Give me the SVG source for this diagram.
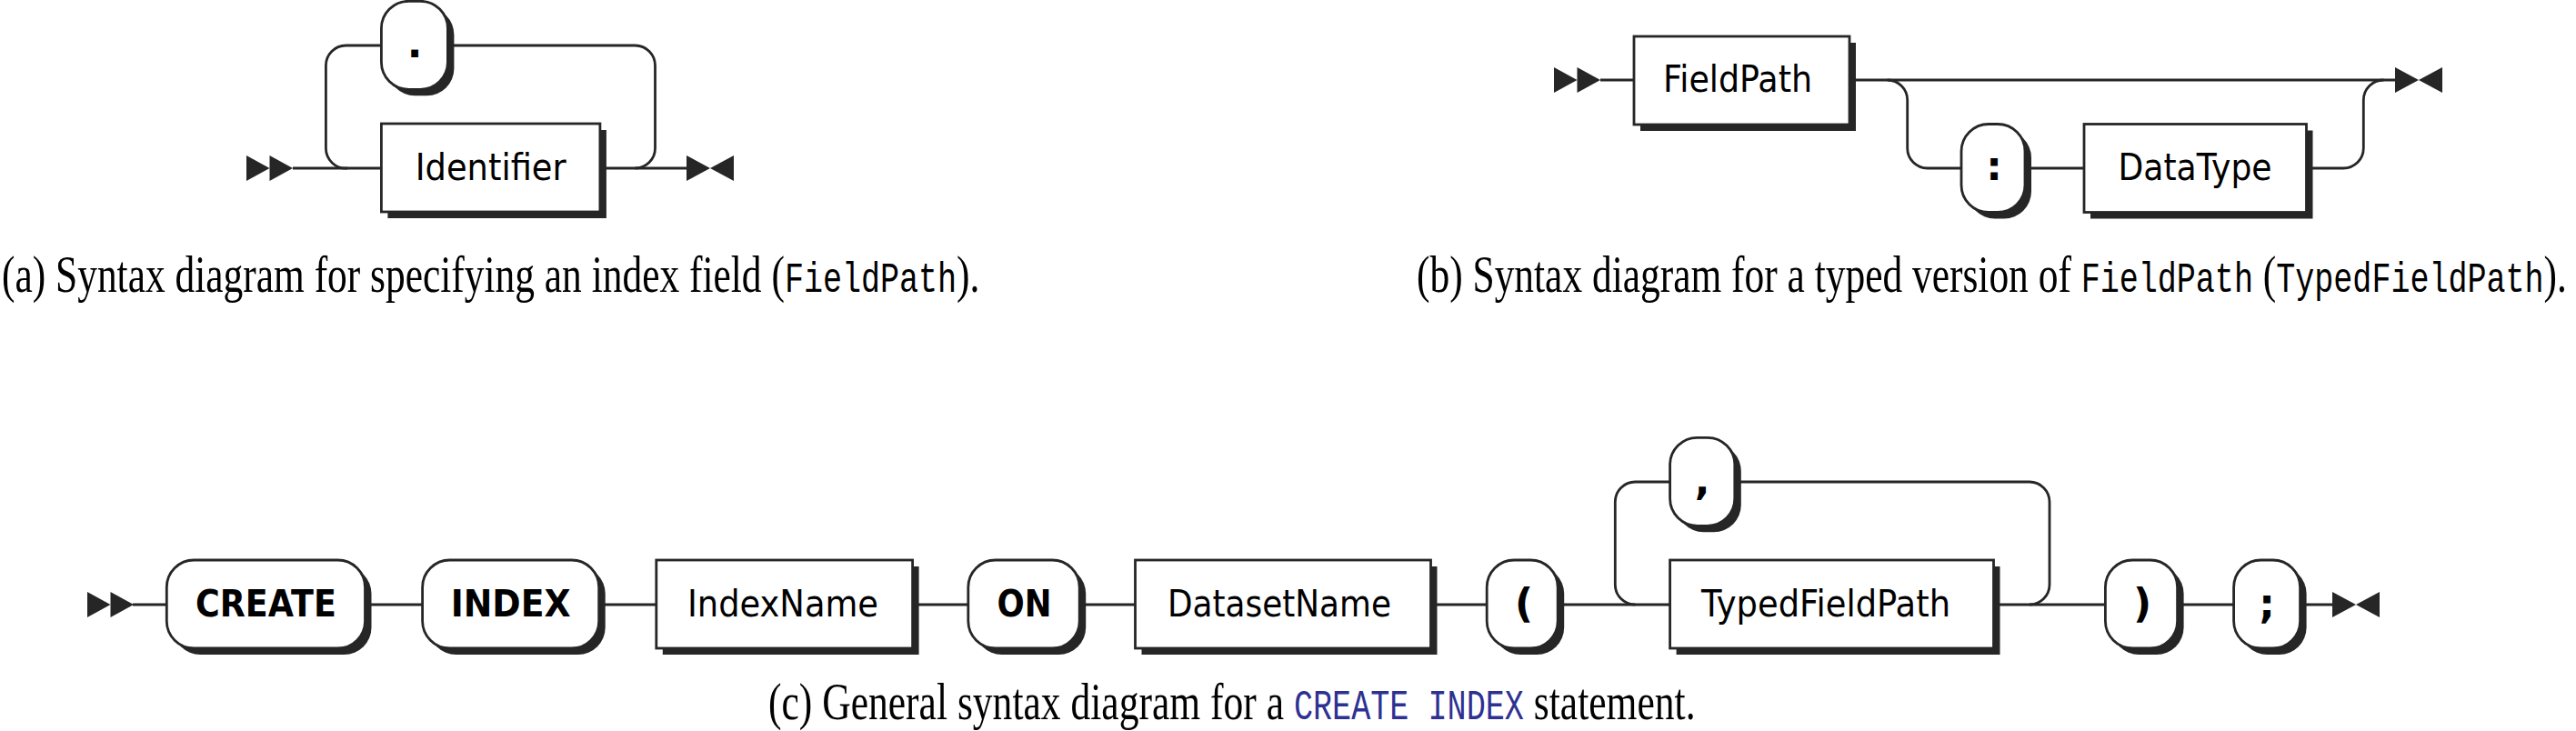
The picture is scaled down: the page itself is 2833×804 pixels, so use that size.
<svg xmlns="http://www.w3.org/2000/svg" xmlns:xlink="http://www.w3.org/1999/xlink" width="2833" height="804" viewBox="0 0 2833 804">
<style>
.line{fill:none;stroke:#262626;stroke-width:2.8}
.box{fill:#fff;stroke:#262626;stroke-width:2.8}
.shadow{fill:#262626}
.arrow{fill:#262626}
.nt{font-family:"DejaVu Sans",Verdana,sans-serif;font-size:40px;fill:#000;text-anchor:middle}
.t{font-family:"DejaVu Sans",Verdana,sans-serif;font-size:40px;font-weight:bold;fill:#000;text-anchor:middle}
.g{font-size:44px}
.cap{font-family:"Liberation Serif","Times New Roman",serif;font-size:57px;fill:#000}
.mono{font-family:"Liberation Mono","Courier New",monospace;font-size:46px}
.blue{fill:#2e3192}
</style>
<defs>
<g id="startArrows" class="arrow"><polygon points="0,-14 0,14 25.5,0"/><polygon points="25.5,-14 25.5,14 51,0"/></g>
<g id="endArrows" class="arrow"><polygon points="0,-14 0,14 26,0"/><polygon points="52,-14 52,14 26,0"/></g>
</defs>

<g id="connectors">
<use xlink:href="#startArrows" x="271" y="185"/>
<path class="line" d="M322,185 H419.4"/>
<path class="line" d="M659.9,185 H755"/>
<path class="line" d="M382,185 A22,22 0 0 1 358.4,163 V72 A22,22 0 0 1 380.4,50 H419.4"/>
<path class="line" d="M492.3,50 H698.5 A22,22 0 0 1 720.5,72 V163 A22,22 0 0 1 698.5,185"/>
<use xlink:href="#endArrows" x="755" y="185"/>

<use xlink:href="#startArrows" x="1709" y="88"/>
<path class="line" d="M1760,88 H1797"/>
<path class="line" d="M2034,88 H2634"/>
<path class="line" d="M2075.7,88 A22,22 0 0 1 2097.7,110 V163 A22,22 0 0 0 2119.7,185 H2157"/>
<path class="line" d="M2227,185 H2292"/>
<path class="line" d="M2536.5,185 H2577.3 A22,22 0 0 0 2599.3,163 V110 A22,22 0 0 1 2621.3,88"/>
<use xlink:href="#endArrows" x="2634" y="88"/>

<use xlink:href="#startArrows" x="96" y="665"/>
<path class="line" d="M146,665 H183.3"/>
<path class="line" d="M401.5,665 H464.6"/>
<path class="line" d="M658.7,665 H721.8"/>
<path class="line" d="M1003.6,665 H1064.8"/>
<path class="line" d="M1187.2,665 H1248.5"/>
<path class="line" d="M1573.5,665 H1635.2"/>
<path class="line" d="M1713.2,665 H1836.6"/>
<path class="line" d="M1798.3,665 A22,22 0 0 1 1776.3,643 V552 A22,22 0 0 1 1798.3,530 H1836.6"/>
<path class="line" d="M1907.8,530 H2232 A22,22 0 0 1 2254,552 V643 A22,22 0 0 1 2232,665"/>
<path class="line" d="M2192.5,665 H2315.4"/>
<path class="line" d="M2394.6,665 H2456.6"/>
<path class="line" d="M2529.6,665 H2565"/>
<use xlink:href="#endArrows" x="2565" y="665"/>
</g>

<g id="node-dot">
<rect class="shadow" x="426.4" y="8.3" width="73" height="97" rx="30"/>
<rect class="box" x="419.4" y="1.3" width="73" height="97" rx="30"/>
<text class="t g" x="456" y="63">.</text>
</g>
<g id="node-identifier">
<rect class="shadow" x="426.4" y="143" width="240.5" height="97"/>
<rect class="box" x="419.4" y="136" width="240.5" height="97"/>
<text class="nt" x="539.7" y="198" textLength="166" lengthAdjust="spacingAndGlyphs">Identifier</text>
</g>

<g id="node-fieldpath">
<rect class="shadow" x="1804" y="47" width="237" height="97"/>
<rect class="box" x="1797" y="40" width="237" height="97"/>
<text class="nt" x="1911" y="101" textLength="164" lengthAdjust="spacingAndGlyphs">FieldPath</text>
</g>
<g id="node-colon">
<rect class="shadow" x="2164" y="143.5" width="70" height="97" rx="30"/>
<rect class="box" x="2157" y="136.5" width="70" height="97" rx="30"/>
<text class="t g" x="2193" y="198">:</text>
</g>
<g id="node-datatype">
<rect class="shadow" x="2299" y="143.5" width="244.5" height="97"/>
<rect class="box" x="2292" y="136.5" width="244.5" height="97"/>
<text class="nt" x="2414" y="198" textLength="169" lengthAdjust="spacingAndGlyphs">DataType</text>
</g>

<g id="node-create">
<rect class="shadow" x="190.3" y="623" width="218.2" height="97" rx="30"/>
<rect class="box" x="183.3" y="616" width="218.2" height="97" rx="30"/>
<text class="t" x="292.4" y="678" textLength="155" lengthAdjust="spacingAndGlyphs">CREATE</text>
</g>
<g id="node-index">
<rect class="shadow" x="471.6" y="623" width="194.1" height="97" rx="30"/>
<rect class="box" x="464.6" y="616" width="194.1" height="97" rx="30"/>
<text class="t" x="561.7" y="678" textLength="132" lengthAdjust="spacingAndGlyphs">INDEX</text>
</g>
<g id="node-indexname">
<rect class="shadow" x="728.8" y="623" width="281.8" height="97"/>
<rect class="box" x="721.8" y="616" width="281.8" height="97"/>
<text class="nt" x="861" y="678" textLength="210" lengthAdjust="spacingAndGlyphs">IndexName</text>
</g>
<g id="node-on">
<rect class="shadow" x="1071.8" y="623" width="122.4" height="97" rx="30"/>
<rect class="box" x="1064.8" y="616" width="122.4" height="97" rx="30"/>
<text class="t" x="1126.5" y="678" textLength="60" lengthAdjust="spacingAndGlyphs">ON</text>
</g>
<g id="node-datasetname">
<rect class="shadow" x="1255.5" y="623" width="325" height="97"/>
<rect class="box" x="1248.5" y="616" width="325" height="97"/>
<text class="nt" x="1407" y="678" textLength="246" lengthAdjust="spacingAndGlyphs">DatasetName</text>
</g>
<g id="node-lparen">
<rect class="shadow" x="1642.2" y="623" width="78" height="97" rx="30"/>
<rect class="box" x="1635.2" y="616" width="78" height="97" rx="30"/>
<text class="t g" x="1676" y="679">(</text>
</g>
<g id="node-comma">
<rect class="shadow" x="1843.6" y="488.3" width="71.2" height="97" rx="30"/>
<rect class="box" x="1836.6" y="481.3" width="71.2" height="97" rx="30"/>
<text class="t g" x="1872" y="544">,</text>
</g>
<g id="node-typedfieldpath">
<rect class="shadow" x="1843.6" y="623" width="355.9" height="97"/>
<rect class="box" x="1836.6" y="616" width="355.9" height="97"/>
<text class="nt" x="2008" y="678" textLength="274" lengthAdjust="spacingAndGlyphs">TypedFieldPath</text>
</g>
<g id="node-rparen">
<rect class="shadow" x="2322.4" y="623" width="79.2" height="97" rx="30"/>
<rect class="box" x="2315.4" y="616" width="79.2" height="97" rx="30"/>
<text class="t g" x="2356" y="679">)</text>
</g>
<g id="node-semicolon">
<rect class="shadow" x="2463.6" y="623" width="73" height="97" rx="30"/>
<rect class="box" x="2456.6" y="616" width="73" height="97" rx="30"/>
<text class="t g" x="2493" y="679">;</text>
</g>

<g id="captions">
<text class="cap" transform="translate(2,321) scale(0.762,1)">(a) Syntax diagram for specifying an index field (<tspan class="mono">FieldPath</tspan>).</text>
<text class="cap" transform="translate(1558,321) scale(0.762,1)">(b) Syntax diagram for a typed version of <tspan class="mono">FieldPath</tspan> (<tspan class="mono">TypedFieldPath</tspan>).</text>
<text class="cap" transform="translate(845,791) scale(0.764,1)">(c) General syntax diagram for a <tspan class="mono blue">CREATE INDEX</tspan> statement.</text>
</g>
</svg>
